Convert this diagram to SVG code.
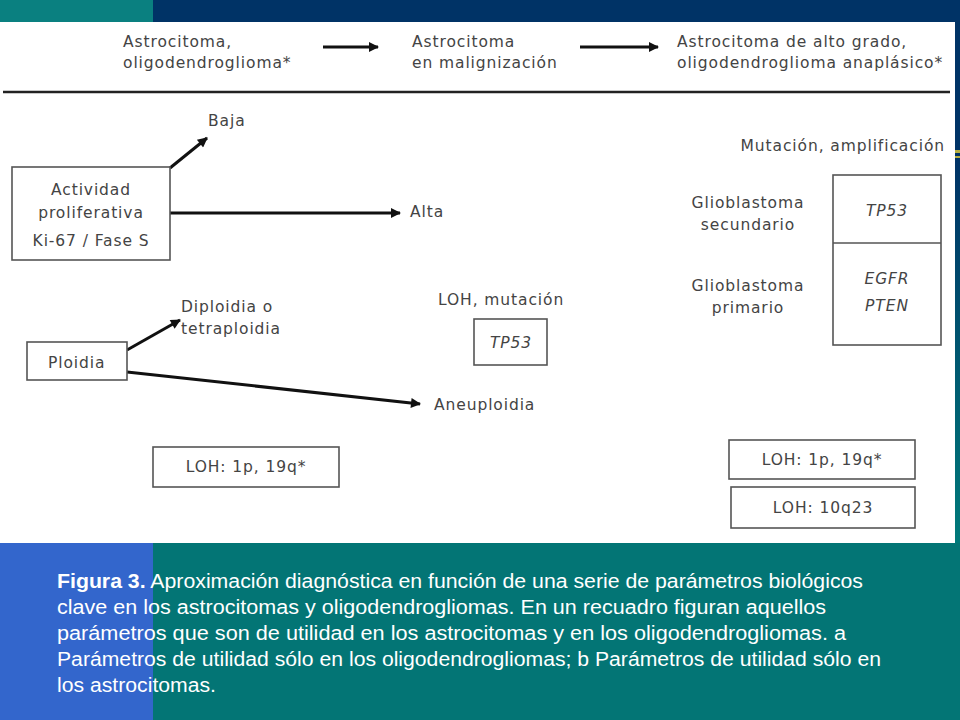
<svg xmlns="http://www.w3.org/2000/svg" width="960" height="720" viewBox="0 0 960 720">
<defs>
<linearGradient id="rg" x1="0" y1="0" x2="0" y2="1">
<stop offset="0" stop-color="#003366"/>
<stop offset="0.3" stop-color="#003366"/>
<stop offset="1" stop-color="#007a7a"/>
</linearGradient>
<marker id="ah" viewBox="0 0 10 10" refX="9" refY="5" markerWidth="12" markerHeight="10" markerUnits="userSpaceOnUse" orient="auto">
<path d="M0,0 L10,5 L0,10 Z" fill="#111"/>
</marker>
<style>
.t{font-family:"DejaVu Sans","Liberation Sans",sans-serif;font-size:15.5px;letter-spacing:0.9px;fill:#444}
.c{text-anchor:middle}
.i{font-style:italic}
.b{fill:#fff;stroke:#555;stroke-width:1.6}
.e{stroke:#111;stroke-width:3;fill:none;marker-end:url(#ah)}
.cap{font-family:"Liberation Sans",Arial,sans-serif;font-size:20px;fill:#fff}
</style>
</defs>
<rect x="0" y="0" width="960" height="720" fill="#007a7a"/>
<rect x="0" y="0" width="153" height="22" fill="#0a8080"/>
<rect x="153" y="0" width="807" height="22" fill="#003366"/>
<rect x="955" y="0" width="5" height="543" fill="url(#rg)"/>
<rect x="955" y="150" width="5" height="3" fill="#b8b040"/>
<rect x="955" y="156" width="5" height="2" fill="#b8b040"/>
<rect x="0" y="22" width="955" height="521" fill="#ffffff"/>
<rect x="0" y="543" width="153" height="177" fill="#3366cc"/>
<rect x="153" y="543" width="807" height="177" fill="#037575"/>

<g id="connectors">
<path class="e" d="M323,47 L378,47"/>
<path class="e" d="M580,47 L658,47"/>
<line x1="3" y1="92" x2="950" y2="92" stroke="#222" stroke-width="2.5"/>
<path class="e" d="M170,168 L207,138"/>
<path class="e" d="M170,213 L400,213"/>
<path class="e" d="M127,350 L180,320"/>
<path class="e" d="M127,372 L420,404"/>
</g>

<g id="header">
<text class="t" x="123" y="47">Astrocitoma,</text>
<text class="t" x="123" y="68">oligodendroglioma*</text>
<text class="t" x="412" y="47">Astrocitoma</text>
<text class="t" x="412" y="68">en malignización</text>
<text class="t" x="677" y="47">Astrocitoma de alto grado,</text>
<text class="t" x="677" y="68">oligodendroglioma anaplásico*</text>
</g>

<g id="actividad">
<rect class="b" x="12" y="167" width="158" height="93"/>
<text class="t c" x="91" y="195">Actividad</text>
<text class="t c" x="91" y="218">proliferativa</text>
<text class="t c" x="91" y="246">Ki-67 / Fase S</text>
</g>
<g id="baja"><text class="t" x="208" y="126">Baja</text></g>
<g id="alta"><text class="t" x="410" y="217">Alta</text></g>

<g id="ploidia">
<rect class="b" x="27" y="342" width="100" height="38"/>
<text class="t" x="48" y="368">Ploidia</text>
</g>
<g id="diploidia">
<text class="t" x="181" y="312">Diploidia o</text>
<text class="t" x="181" y="334">tetraploidia</text>
</g>
<g id="aneuploidia"><text class="t" x="434" y="410">Aneuploidia</text></g>

<g id="loh-mutacion">
<text class="t" x="438" y="305">LOH, mutación</text>
<rect class="b" x="474" y="319" width="73" height="46"/>
<text class="t c i" x="511" y="348">TP53</text>
</g>

<g id="loh-1p-left">
<rect class="b" x="153" y="447" width="186" height="40"/>
<text class="t c" x="246" y="472">LOH: 1p, 19q*</text>
</g>

<g id="mutacion">
<text class="t" x="945" y="151" text-anchor="end">Mutación, amplificación</text>
<rect class="b" x="833" y="175" width="108" height="170"/>
<line x1="833" y1="243" x2="941" y2="243" stroke="#555" stroke-width="1.6"/>
<text class="t c i" x="887" y="216">TP53</text>
<text class="t c i" x="887" y="284">EGFR</text>
<text class="t c i" x="887" y="311">PTEN</text>
</g>
<g id="gb-secundario">
<text class="t c" x="748" y="208">Glioblastoma</text>
<text class="t c" x="748" y="230">secundario</text>
</g>
<g id="gb-primario">
<text class="t c" x="748" y="291">Glioblastoma</text>
<text class="t c" x="748" y="313">primario</text>
</g>

<g id="loh-1p-right">
<rect class="b" x="729" y="440" width="186" height="39"/>
<text class="t c" x="822" y="465">LOH: 1p, 19q*</text>
</g>
<g id="loh-10q23">
<rect class="b" x="731" y="487" width="184" height="41"/>
<text class="t c" x="823" y="513">LOH: 10q23</text>
</g>

<g id="caption">
<text class="cap" x="57" y="588" textLength="806" lengthAdjust="spacingAndGlyphs"><tspan font-weight="bold">Figura 3.</tspan> Aproximación diagnóstica en función de una serie de parámetros biológicos</text>
<text class="cap" x="57" y="614" textLength="769" lengthAdjust="spacingAndGlyphs">clave en los astrocitomas y oligodendrogliomas. En un recuadro figuran aquellos</text>
<text class="cap" x="57" y="640" textLength="789" lengthAdjust="spacingAndGlyphs">parámetros que son de utilidad en los astrocitomas y en los oligodendrogliomas. a</text>
<text class="cap" x="57" y="666" textLength="824" lengthAdjust="spacingAndGlyphs">Parámetros de utilidad sólo en los oligodendrogliomas; b Parámetros de utilidad sólo en</text>
<text class="cap" x="57" y="692" textLength="159" lengthAdjust="spacingAndGlyphs">los astrocitomas.</text>
</g>
</svg>
